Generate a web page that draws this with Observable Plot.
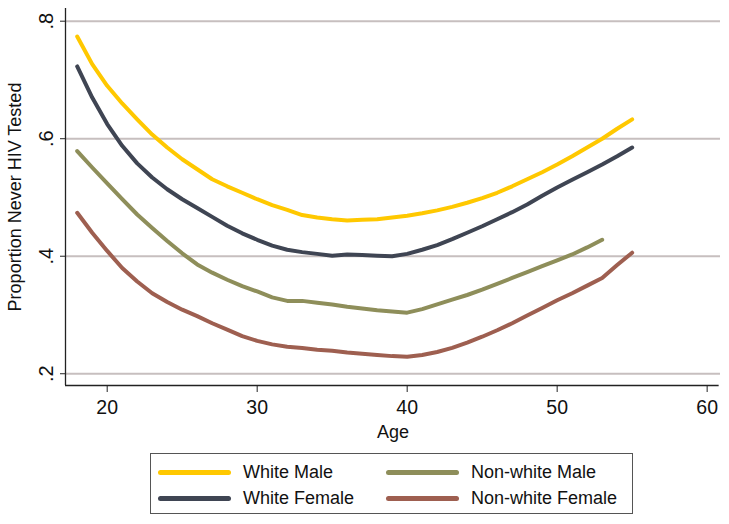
<!DOCTYPE html>
<html><head><meta charset="utf-8">
<script src="https://cdn.jsdelivr.net/npm/d3@7"></script>
<script src="https://cdn.jsdelivr.net/npm/@observablehq/plot@0.6"></script>
<style>
body{margin:0;background:#fff;font-family:"Liberation Sans",Arial,Helvetica,sans-serif;}
#chart svg{display:block;}
#legend{position:absolute;left:150px;top:453px;width:481px;height:59px;border:1.5px solid #555;box-sizing:content-box;font-size:18px;color:#111;}
.item{position:absolute;display:flex;align-items:center;}
.sw{width:73px;height:5px;border-radius:3px;margin-right:12px;}
</style></head><body>
<div id="chart"></div>
<div id="legend"></div>
<script>
const seriesNames = ["White Male", "White Female", "Non-white Male", "Non-white Female"];
const seriesColors = ["#ffc800", "#3f4553", "#8e8e5a", "#9e5f50"];

const agesWM = d3.range(18, 56);
const valsWM = [.774,.727,.690,.660,.633,.607,.585,.565,.548,.531,.519,.508,.497,.487,.479,.470,.466,.463,.461,.462,.463,.466,.469,.473,.478,.484,.491,.499,.508,.519,.531,.543,.556,.570,.585,.600,.617,.633];
const agesWF = d3.range(18, 56);
const valsWF = [.723,.670,.625,.588,.558,.534,.514,.497,.482,.467,.452,.439,.428,.418,.411,.407,.404,.401,.403,.402,.401,.400,.404,.411,.419,.429,.440,.451,.463,.475,.488,.503,.517,.530,.543,.556,.570,.585];
const agesNWM = d3.range(18, 54);
const valsNWM = [.579,.551,.524,.497,.471,.448,.426,.405,.386,.372,.360,.349,.340,.330,.324,.324,.321,.318,.314,.311,.308,.306,.304,.310,.318,.326,.334,.343,.353,.363,.373,.383,.393,.403,.415,.428];
const agesNWF = d3.range(18, 56);
const valsNWF = [.474,.440,.409,.380,.357,.337,.322,.309,.298,.286,.275,.264,.256,.250,.246,.244,.241,.239,.236,.234,.232,.230,.229,.232,.237,.244,.253,.263,.274,.286,.299,.312,.325,.337,.350,.363,.385,.406];

const xTicks = [20, 30, 40, 50, 60];
const yTicks = [0.2, 0.4, 0.6, 0.8];
const xDomain = [17.22, 60.89];
const yDomain = [0.18, 0.8216];

const allAges = [agesWM, agesWF, agesNWM, agesNWF];
const allVals = [valsWM, valsWF, valsNWM, valsNWF];
const data = [];
seriesNames.forEach((s, i) => allAges[i].forEach((a, j) => data.push({series: s, age: a, value: allVals[i][j]})));

const chart = Plot.plot({
  width: 729,
  height: 445,
  marginLeft: 65,
  marginRight: 9,
  marginTop: 8,
  marginBottom: 60,
  style: {fontFamily: '"Liberation Sans", Arial, Helvetica, sans-serif', color: "#111", background: "#fff"},
  x: {domain: xDomain},
  y: {domain: yDomain},
  color: {domain: seriesNames, range: seriesColors},
  marks: [
    Plot.gridY(yTicks, {stroke: "#c7bfbf", strokeOpacity: 1, strokeWidth: 2}),
    Plot.ruleX([xDomain[0]], {stroke: "#222", strokeWidth: 1.3}),
    Plot.ruleY([yDomain[0]], {stroke: "#222", strokeWidth: 1.3, x1: xDomain[0], x2: 60.8}),
    Plot.axisX({ticks: xTicks, tickSize: 7, tickPadding: 8, fontSize: 19.5, label: "Age", labelAnchor: "center", labelArrow: "none", labelOffset: 52, stroke: "#222"}),
    Plot.axisY({ticks: yTicks, tickSize: 5, tickPadding: 8, fontSize: 20, tickRotate: -90, tickFormat: d => String(d).replace(/^0/, ""), label: "Proportion Never HIV Tested", labelAnchor: "center", labelArrow: "none", labelOffset: 57, stroke: "#222"}),
    Plot.line(data, {x: "age", y: "value", z: "series", stroke: "series", strokeWidth: 4, strokeLinecap: "round", strokeLinejoin: "round"})
  ]
});
chart.querySelectorAll('[aria-label="y-axis label"] text, [aria-label="x-axis label"] text').forEach(t => t.setAttribute("font-size", "18"));
document.getElementById("chart").append(chart);

const leg = document.getElementById("legend");
const pos = [[7, 18], [7, 44], [235, 18], [235, 44]];
seriesNames.forEach((s, i) => {
  const it = document.createElement("div");
  it.className = "item";
  it.style.left = pos[i][0] + "px";
  it.style.top = (pos[i][1] - 11) + "px";
  it.style.height = "22px";
  const sw = document.createElement("div");
  sw.className = "sw";
  sw.style.background = seriesColors[i];
  const tx = document.createElement("span");
  tx.textContent = s;
  it.append(sw, tx);
  leg.append(it);
});
</script>
</body></html>
